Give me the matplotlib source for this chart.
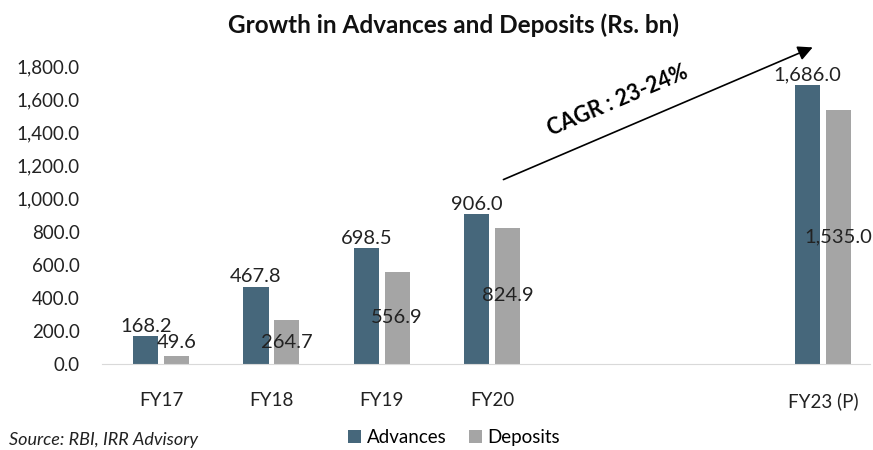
import numpy as np
import matplotlib
matplotlib.use("Agg")
import matplotlib.pyplot as plt
from matplotlib.ticker import FuncFormatter

plt.rcParams['font.family'] = ['Lato', 'DejaVu Sans']

# data (Rs. bn); FY21 and FY22 are empty slots on the axis
years = ['FY17', 'FY18', 'FY19', 'FY20', '', '', 'FY23 (P)']
advances = [168.2, 467.8, 698.5, 906.0, None, None, 1686.0]
deposits = [49.6, 264.7, 556.9, 824.9, None, None, 1535.0]

adv_color = '#46677b'
dep_color = '#a5a5a5'

fig = plt.figure(figsize=(8.73, 4.5), dpi=100)
ax = fig.add_axes([0.117, 0.191, 0.880, 0.662])

x = np.arange(len(years))
w = 0.227
off = 0.14
for i, (a, d) in enumerate(zip(advances, deposits)):
    if a is None:
        continue
    ax.bar(x[i] - off, a, w, color=adv_color, label='Advances' if i == 0 else None)
    ax.bar(x[i] + off, d, w, color=dep_color, label='Deposits' if i == 0 else None)
    ax.annotate(f'{a:,.1f}', (x[i] - off, a), xytext=(0, 1), textcoords='offset points',
                ha='center', va='bottom', fontsize=14.5, color='#222222')
    ax.text(x[i] + off, max(d / 2, 132), f'{d:,.1f}', ha='center', va='center',
            fontsize=14.5, color='#222222')

ax.set_xlim(-0.535, 6.43)
ax.set_ylim(0, 1800)
ax.set_yticks(np.arange(0, 1801, 200))
ax.yaxis.set_major_formatter(FuncFormatter(lambda v, p: f'{v:,.1f}'))
ax.set_xticks(x)
ax.set_xticklabels(years)
ax.tick_params(axis='both', length=0, labelsize=13.5, colors='#222222')
ax.tick_params(axis='x', pad=20)
ax.tick_params(axis='y', pad=16)
for s in ['top', 'right', 'left']:
    ax.spines[s].set_visible(False)
ax.spines['bottom'].set_color('#d9d9d9')

# CAGR arrow
ax.annotate('', xy=(5.93, 1920), xytext=(3.08, 1108), annotation_clip=False,
            arrowprops=dict(arrowstyle='-|>', color='black', lw=1.2, mutation_scale=22))
ax.text(4.14, 1590, 'CAGR : 23-24%', rotation=23, ha='center', va='center',
        fontsize=15.5, fontweight='bold', rotation_mode='anchor')

fig.text(0.519, 0.945, 'Growth in Advances and Deposits (Rs. bn)', ha='center', va='center',
         fontsize=17.5, fontweight='bold', color='#111111')

fig.legend(loc='center', bbox_to_anchor=(0.52, 0.028), ncol=2, frameon=False,
           fontsize=13.5, handlelength=0.7, handleheight=0.7, handletextpad=0.3,
           columnspacing=1.2)
fig.text(0.01, 0.004, 'Source: RBI, IRR Advisory', fontsize=13, style='italic',
         ha='left', va='bottom', color='#222222')

fig.savefig('out.png', dpi=100)
